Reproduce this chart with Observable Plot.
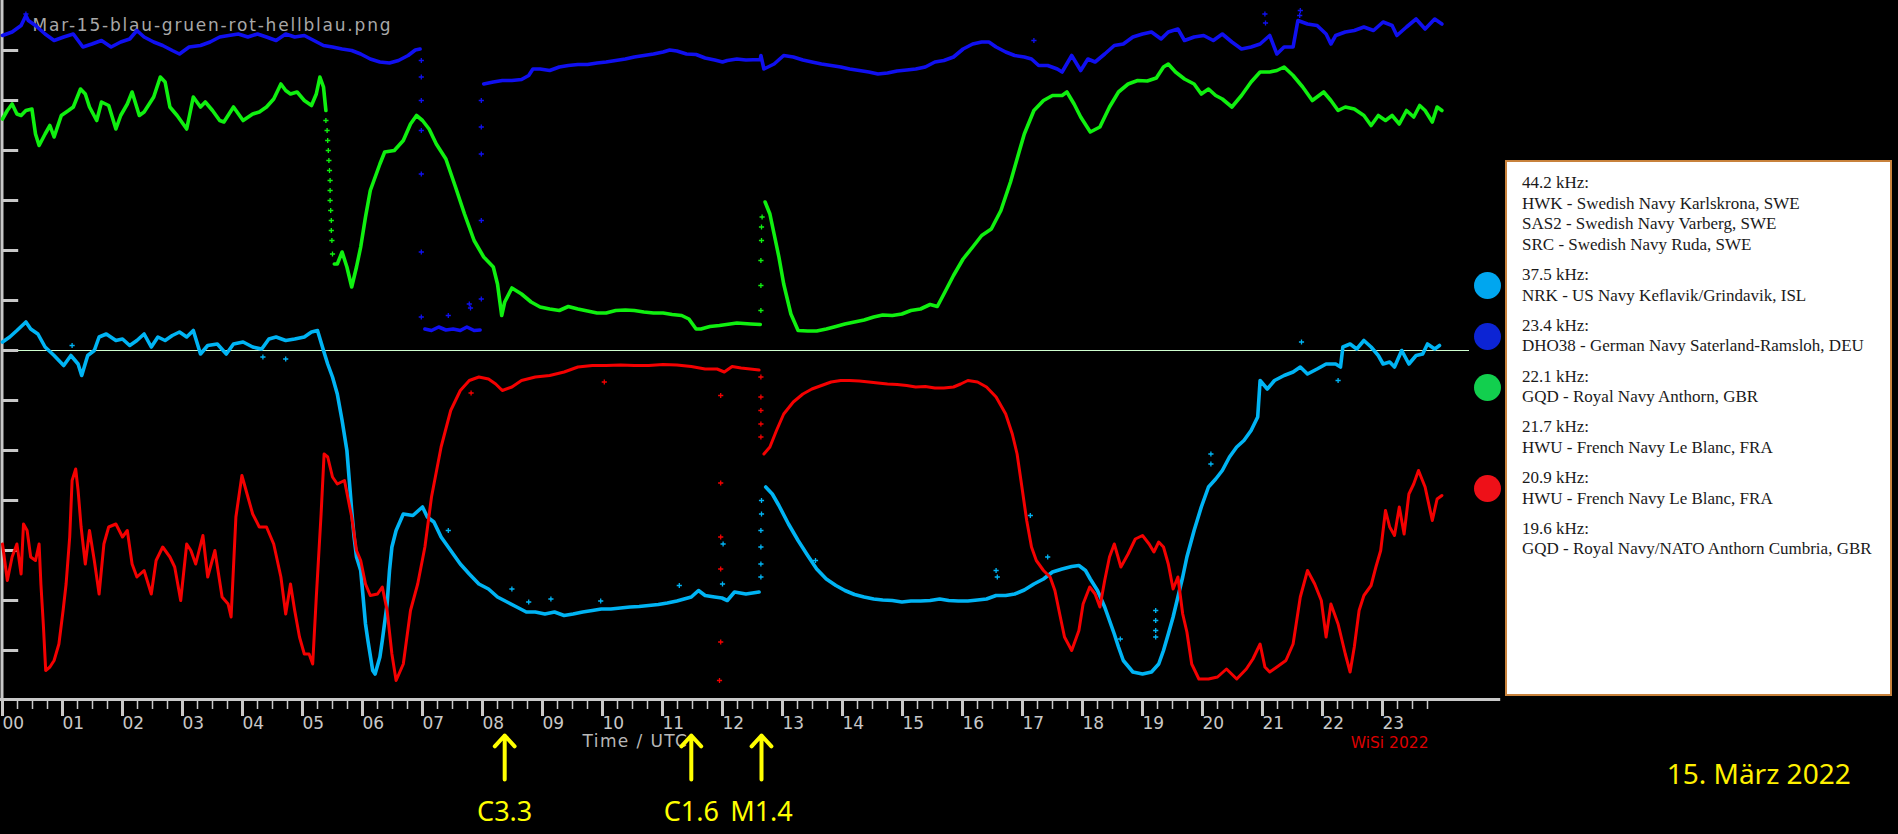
<!DOCTYPE html>
<html><head><meta charset="utf-8">
<script src="https://cdn.jsdelivr.net/npm/d3@7"></script>
<script src="https://cdn.jsdelivr.net/npm/@observablehq/plot@0.6"></script>
<style>
html,body{margin:0;padding:0;background:#000;width:1898px;height:834px;overflow:hidden}
#chart{position:absolute;left:0;top:0}
#legend{position:absolute;left:1505px;top:160px;width:387px;height:536px;box-sizing:border-box;border:2px solid #c8823c;background:#fff;padding:11px 0 0 15px;font-family:"Liberation Serif","Times New Roman",serif;font-size:17px;line-height:20.6px;color:#1a1a1a}
.grp{position:relative;margin-bottom:9.6px}
.blob{position:absolute;left:-48.5px;top:50%;width:27px;height:27px;margin-top:-13.5px;border-radius:50%}
</style>
</head><body>
<div id="chart"></div>
<div id="legend"></div>
<script>
// ---- data: hour (UTC) vs. relative signal level ----
const title = "Mar-15-blau-gruen-rot-hellblau.png";
const hours = d3.range(0, 24);
const quarterTicks = d3.range(0, 24, 0.25).filter(h => h % 1 !== 0);
const levelTicks = d3.range(10, 140, 10);
const referenceLevel = 70;

const blue = [[0.00,133.0],[0.16,133.7],[0.31,135.0],[0.39,137.0],[0.43,136.0],[0.55,135.0],[0.71,133.3],[0.86,132.0],[1.02,132.7],[1.18,133.3],[1.34,130.7],[1.49,131.3],[1.65,132.0],[1.81,130.7],[1.97,131.7],[2.12,132.3],[2.24,134.0],[2.36,132.7],[2.52,131.7],[2.67,131.0],[2.83,130.0],[2.95,129.3],[3.11,130.7],[3.30,131.0],[3.46,131.7],[3.62,132.7],[3.77,133.0],[3.93,133.3],[4.09,132.7],[4.25,133.3],[4.40,132.7],[4.56,132.0],[4.72,133.3],[4.87,132.7],[5.03,133.0],[5.19,132.0],[5.35,131.0],[5.50,130.7],[5.66,130.3],[5.82,130.0],[5.97,129.3],[6.13,128.3],[6.29,127.7],[6.45,127.5],[6.60,128.0],[6.76,129.0],[6.88,130.1],[6.96,130.3],[6.97,null],
[7.04,74.3],[7.15,74.0],[7.27,74.7],[7.39,74.1],[7.51,74.3],[7.63,74.0],[7.74,74.7],[7.86,74.0],[7.96,74.1],[7.97,null],
[8.02,123.3],[8.18,123.7],[8.33,124.0],[8.49,124.0],[8.65,124.2],[8.77,125.0],[8.84,126.3],[8.96,126.3],[9.12,126.0],[9.28,126.7],[9.43,127.0],[9.59,127.2],[9.75,127.2],[9.91,127.5],[10.06,127.7],[10.22,128.0],[10.38,128.3],[10.53,128.7],[10.69,129.0],[10.85,129.3],[11.01,129.7],[11.12,130.1],[11.24,129.9],[11.40,129.3],[11.56,129.2],[11.71,128.5],[11.87,128.1],[12.00,127.7],[12.08,128.0],[12.24,128.3],[12.39,128.1],[12.63,128.2],[12.64,129.0],[12.69,126.3],[12.86,127.3],[13.02,129.0],[13.18,128.7],[13.34,128.1],[13.49,127.7],[13.65,127.3],[13.81,127.0],[13.97,126.7],[14.12,126.3],[14.28,126.0],[14.44,125.7],[14.59,125.3],[14.75,125.5],[14.91,125.9],[15.07,126.1],[15.22,126.3],[15.38,126.7],[15.54,127.7],[15.69,128.0],[15.85,128.7],[16.01,130.3],[16.17,131.3],[16.32,131.7],[16.44,131.7],[16.56,130.7],[16.72,129.7],[16.87,129.0],[17.03,128.7],[17.15,128.3],[17.27,127.0],[17.42,127.0],[17.58,126.3],[17.66,125.7],[17.82,129.0],[17.97,126.0],[18.09,128.3],[18.21,127.7],[18.37,129.3],[18.53,131.0],[18.68,131.3],[18.84,132.7],[19.00,133.3],[19.15,133.7],[19.31,132.3],[19.43,133.7],[19.59,134.3],[19.70,132.0],[19.86,132.7],[20.02,133.0],[20.18,132.0],[20.33,133.3],[20.49,131.7],[20.65,130.3],[20.81,130.7],[20.96,131.3],[21.12,133.0],[21.24,129.3],[21.36,130.7],[21.51,130.7],[21.59,136.0],[21.75,135.3],[21.91,135.0],[22.06,133.3],[22.14,131.3],[22.22,133.0],[22.38,133.7],[22.53,134.0],[22.69,134.7],[22.85,134.0],[23.01,135.7],[23.16,135.0],[23.24,133.0],[23.40,134.7],[23.56,136.3],[23.71,134.3],[23.87,136.3],[23.99,135.3]];
const blueDots = [[6.98,128.0],[6.98,124.7],[6.98,120.0],[6.98,114.0],[6.98,105.3],[6.98,89.7],[6.98,76.7],[7.43,77.0],[7.78,79.3],[7.80,78.5],[7.98,80.3],[7.98,96.0],[7.98,109.3],[7.98,114.7],[7.98,120.0],[17.19,132.0],[21.04,137.3],[21.05,135.5],[21.63,138.0],[21.62,137.0],[0.39,137.3]];

const green = [[0.00,116.3],[0.08,118.0],[0.16,119.3],[0.24,117.3],[0.31,117.0],[0.39,118.0],[0.49,118.3],[0.55,113.3],[0.61,111.0],[0.71,113.3],[0.79,115.0],[0.86,112.7],[0.98,117.0],[1.10,118.0],[1.18,118.7],[1.30,122.3],[1.38,121.3],[1.45,118.7],[1.57,116.0],[1.65,119.7],[1.77,119.0],[1.89,114.3],[1.97,117.0],[2.08,119.3],[2.16,121.7],[2.28,117.0],[2.36,117.7],[2.52,120.7],[2.63,124.7],[2.71,123.7],[2.79,118.7],[2.91,117.0],[3.07,114.3],[3.18,120.7],[3.30,118.7],[3.38,119.7],[3.50,118.0],[3.62,116.0],[3.69,115.7],[3.85,118.7],[4.01,116.0],[4.17,117.3],[4.28,117.7],[4.40,118.7],[4.52,120.3],[4.64,123.3],[4.72,122.0],[4.80,121.3],[4.91,121.7],[5.03,120.0],[5.15,119.0],[5.23,121.3],[5.29,124.7],[5.35,122.7],[5.39,118.0],[5.40,null],
[5.53,87.3],[5.58,87.3],[5.66,89.7],[5.74,86.7],[5.82,82.7],[5.90,86.7],[5.97,90.7],[6.05,96.7],[6.13,102.0],[6.29,107.3],[6.37,109.7],[6.53,110.0],[6.68,112.0],[6.80,115.3],[6.90,117.0],[7.00,116.0],[7.11,114.3],[7.23,111.3],[7.39,108.3],[7.55,102.7],[7.70,97.3],[7.86,92.0],[8.02,88.7],[8.18,86.7],[8.25,83.3],[8.32,77.0],[8.37,79.7],[8.49,82.5],[8.65,81.3],[8.81,79.7],[8.96,78.7],[9.12,78.3],[9.28,78.0],[9.43,78.8],[9.59,78.3],[9.75,77.9],[9.91,77.5],[10.06,77.5],[10.22,78.0],[10.38,78.1],[10.53,78.0],[10.69,77.7],[10.85,77.5],[11.01,77.5],[11.16,77.2],[11.32,77.0],[11.44,76.3],[11.56,74.3],[11.64,74.3],[11.79,74.8],[11.95,75.0],[12.24,75.5],[12.47,75.3],[12.63,75.2],[12.64,null],
[12.71,99.7],[12.79,97.3],[12.86,93.3],[12.94,88.7],[13.02,83.3],[13.14,77.3],[13.26,74.0],[13.42,73.9],[13.57,73.9],[13.73,74.3],[13.89,74.8],[14.04,75.3],[14.20,75.7],[14.36,76.1],[14.52,76.7],[14.67,77.1],[14.83,77.0],[14.99,77.3],[15.14,78.0],[15.30,78.3],[15.46,79.2],[15.58,78.8],[15.69,81.3],[15.85,85.0],[16.01,88.3],[16.17,90.7],[16.32,93.0],[16.48,94.3],[16.64,98.0],[16.80,103.7],[16.95,110.0],[17.03,113.3],[17.19,118.0],[17.35,120.0],[17.50,121.0],[17.66,121.0],[17.74,121.7],[17.86,119.3],[17.97,116.7],[18.13,113.7],[18.29,114.7],[18.45,118.7],[18.60,121.7],[18.76,123.3],[18.92,124.0],[19.08,123.9],[19.23,124.5],[19.35,126.7],[19.43,127.3],[19.55,125.7],[19.70,124.3],[19.86,123.3],[19.98,121.3],[20.10,122.3],[20.22,121.0],[20.33,120.3],[20.49,118.7],[20.65,121.0],[20.81,123.7],[20.96,125.7],[21.12,125.7],[21.24,126.0],[21.36,126.7],[21.51,125.0],[21.67,122.7],[21.83,120.0],[22.02,121.7],[22.14,120.0],[22.26,118.0],[22.38,118.7],[22.53,118.3],[22.69,117.0],[22.81,115.0],[22.93,117.0],[23.05,116.0],[23.16,117.0],[23.28,115.3],[23.40,118.0],[23.52,116.7],[23.62,119.0],[23.71,118.0],[23.83,115.7],[23.91,118.7],[23.99,118.0]];
const greenDots = [[5.39,116.0],[5.41,114.0],[5.42,112.0],[5.43,110.0],[5.44,108.0],[5.45,106.0],[5.46,104.0],[5.46,102.0],[5.46,100.0],[5.47,98.0],[5.48,96.0],[5.48,94.0],[5.49,92.0],[5.50,89.3],[12.64,78.0],[12.64,83.0],[12.64,88.0],[12.65,92.0],[12.65,94.7],[12.66,96.7]];

const lightBlue = [[0.00,71.7],[0.12,72.7],[0.24,74.0],[0.39,75.7],[0.47,74.3],[0.59,73.3],[0.71,70.7],[0.86,69.0],[1.02,67.0],[1.14,69.0],[1.26,67.3],[1.32,65.0],[1.42,69.0],[1.53,70.0],[1.61,72.7],[1.73,73.3],[1.89,72.0],[2.00,72.3],[2.12,71.0],[2.24,72.0],[2.36,73.3],[2.48,70.7],[2.59,72.7],[2.71,72.0],[2.83,73.0],[2.95,73.7],[3.07,72.7],[3.18,74.0],[3.30,69.3],[3.42,71.0],[3.58,71.3],[3.73,69.3],[3.85,71.3],[4.01,71.7],[4.17,70.7],[4.32,70.3],[4.44,72.3],[4.56,72.7],[4.72,72.0],[4.87,72.3],[5.03,72.7],[5.15,73.7],[5.25,74.0],[5.35,70.0],[5.42,67.3],[5.50,64.7],[5.58,61.3],[5.66,56.0],[5.74,50.0],[5.78,44.0],[5.82,38.0],[5.86,32.7],[5.90,28.7],[5.97,26.0],[6.01,20.7],[6.05,15.3],[6.09,12.0],[6.17,6.0],[6.21,5.3],[6.29,8.7],[6.33,12.0],[6.41,19.3],[6.45,26.0],[6.49,30.7],[6.56,34.0],[6.68,37.3],[6.84,37.0],[7.00,38.7],[7.08,36.7],[7.19,35.7],[7.31,32.7],[7.47,30.0],[7.63,27.3],[7.78,25.3],[7.94,23.3],[8.10,22.3],[8.25,20.7],[8.41,19.7],[8.57,18.7],[8.73,17.7],[8.88,17.7],[9.04,17.3],[9.20,17.7],[9.36,17.0],[9.51,17.3],[9.67,17.7],[9.83,18.0],[9.98,18.3],[10.14,18.3],[10.30,18.5],[10.46,18.7],[10.61,18.8],[10.77,19.0],[10.93,19.2],[11.08,19.5],[11.24,19.9],[11.36,20.3],[11.48,20.7],[11.60,22.0],[11.71,21.0],[11.87,20.7],[11.99,20.5],[12.08,20.0],[12.20,21.7],[12.39,21.3],[12.61,21.7],[12.63,null],
[12.72,42.7],[12.83,41.3],[12.94,39.0],[13.10,35.3],[13.26,32.0],[13.42,29.0],[13.57,26.3],[13.73,24.3],[13.89,23.0],[14.04,22.0],[14.20,21.2],[14.36,20.7],[14.52,20.3],[14.67,20.1],[14.83,20.0],[14.99,19.7],[15.14,19.9],[15.30,19.9],[15.46,20.0],[15.62,20.3],[15.77,20.0],[15.93,19.9],[16.09,19.9],[16.25,20.1],[16.40,20.3],[16.56,21.0],[16.72,21.0],[16.87,21.3],[17.03,22.1],[17.19,23.3],[17.35,24.3],[17.50,25.7],[17.66,26.3],[17.82,26.8],[17.94,27.0],[18.05,26.0],[18.13,24.3],[18.25,22.0],[18.37,18.7],[18.45,16.0],[18.53,13.3],[18.60,10.7],[18.68,8.0],[18.84,5.7],[19.00,5.3],[19.15,5.7],[19.27,7.3],[19.35,10.0],[19.43,13.3],[19.51,16.7],[19.59,20.7],[19.67,24.7],[19.74,28.7],[19.86,34.0],[19.98,38.7],[20.10,42.7],[20.22,44.3],[20.33,46.0],[20.45,48.7],[20.57,50.7],[20.69,52.0],[20.81,54.0],[20.92,56.7],[20.96,64.0],[21.08,62.3],[21.20,64.0],[21.36,65.0],[21.51,65.7],[21.63,66.7],[21.75,65.3],[21.91,66.3],[22.06,67.3],[22.22,67.3],[22.30,66.7],[22.34,70.7],[22.46,71.3],[22.57,70.3],[22.69,72.0],[22.81,70.7],[22.93,69.0],[23.01,67.3],[23.12,67.7],[23.20,66.7],[23.32,70.0],[23.44,67.3],[23.56,69.0],[23.67,69.3],[23.75,71.3],[23.87,70.3],[23.95,71.0]];
const lightBlueDots = [[12.64,24.7],[12.64,27.3],[12.64,30.7],[12.64,34.0],[12.65,37.3],[12.65,40.0],[12.00,23.3],[12.01,31.3],[13.55,28.0],[16.56,26.0],[16.58,24.7],[17.42,28.7],[17.13,37.0],[18.63,12.3],[19.22,18.0],[19.22,16.0],[19.22,14.0],[19.22,12.7],[20.14,49.3],[20.14,47.3],[21.65,71.7],[22.26,64.0],[8.49,22.3],[8.77,19.7],[9.14,20.3],[9.97,19.9],[11.28,23.0],[7.43,34.0],[1.16,71.0],[4.72,68.3],[4.34,68.7]];

const red = [[0.00,31.3],[0.08,24.0],[0.16,28.7],[0.24,31.3],[0.31,25.3],[0.35,35.3],[0.41,34.0],[0.47,28.7],[0.55,28.0],[0.61,31.3],[0.64,23.3],[0.68,15.3],[0.72,6.0],[0.79,6.7],[0.86,8.0],[0.94,11.3],[1.01,18.0],[1.06,23.3],[1.12,32.7],[1.16,44.0],[1.22,46.3],[1.26,42.0],[1.31,34.7],[1.38,27.3],[1.45,34.0],[1.53,28.0],[1.61,21.3],[1.69,31.3],[1.77,34.7],[1.89,35.3],[2.00,32.7],[2.08,34.0],[2.16,27.3],[2.24,24.7],[2.36,26.0],[2.48,21.3],[2.56,28.0],[2.67,30.7],[2.79,28.7],[2.87,26.7],[2.97,20.0],[3.07,31.3],[3.14,30.0],[3.22,27.3],[3.34,33.0],[3.42,24.7],[3.54,30.0],[3.66,20.7],[3.76,19.3],[3.81,16.7],[3.89,36.7],[3.99,45.0],[4.09,40.7],[4.17,37.3],[4.28,34.7],[4.40,34.7],[4.52,31.3],[4.64,24.7],[4.72,17.3],[4.80,23.3],[4.87,18.0],[4.95,12.7],[5.03,9.3],[5.11,9.3],[5.17,7.3],[5.23,20.7],[5.31,37.3],[5.36,49.3],[5.42,48.7],[5.50,44.7],[5.58,43.3],[5.70,44.0],[5.82,36.7],[5.90,30.0],[5.97,28.0],[6.05,23.3],[6.13,21.0],[6.25,21.3],[6.33,22.7],[6.41,18.0],[6.49,9.3],[6.56,4.0],[6.68,7.3],[6.80,18.0],[6.92,23.3],[7.04,30.7],[7.15,40.7],[7.31,50.7],[7.47,58.0],[7.63,62.0],[7.78,64.0],[7.94,64.7],[8.10,64.3],[8.22,63.3],[8.33,62.0],[8.49,62.7],[8.65,64.0],[8.88,64.7],[9.12,65.0],[9.36,65.7],[9.59,66.7],[9.83,67.0],[10.06,67.0],[10.30,67.1],[10.53,67.0],[10.77,67.0],[11.01,67.2],[11.24,67.1],[11.48,66.8],[11.71,66.3],[11.91,66.3],[12.03,65.7],[12.16,66.8],[12.31,66.5],[12.61,66.1],[12.63,null],
[12.69,49.3],[12.79,50.7],[12.90,54.0],[13.02,57.3],[13.18,59.7],[13.34,61.3],[13.49,62.3],[13.65,63.0],[13.81,63.7],[13.97,64.0],[14.12,64.0],[14.28,63.9],[14.44,63.7],[14.59,63.5],[14.75,63.3],[14.91,63.2],[15.07,63.0],[15.22,62.7],[15.38,62.8],[15.54,62.5],[15.69,62.5],[15.85,62.7],[15.97,63.3],[16.09,64.0],[16.25,63.7],[16.40,62.7],[16.56,60.7],[16.72,57.3],[16.83,53.3],[16.91,49.3],[16.99,42.7],[17.07,36.0],[17.15,30.7],[17.23,28.0],[17.35,26.0],[17.46,24.7],[17.54,22.0],[17.62,17.3],[17.70,12.7],[17.82,10.0],[17.94,14.0],[18.01,19.3],[18.12,22.7],[18.21,21.3],[18.29,18.7],[18.37,24.0],[18.45,28.7],[18.53,31.3],[18.64,26.7],[18.76,29.3],[18.88,32.3],[19.00,33.0],[19.11,31.3],[19.19,29.7],[19.27,31.7],[19.35,30.7],[19.43,27.3],[19.51,22.3],[19.59,24.7],[19.67,17.3],[19.74,13.7],[19.82,7.3],[19.94,4.3],[20.10,4.3],[20.25,4.7],[20.40,6.3],[20.57,4.3],[20.73,6.3],[20.84,8.3],[20.96,11.3],[21.04,6.7],[21.12,5.7],[21.24,6.7],[21.39,8.0],[21.51,11.3],[21.63,20.7],[21.75,26.0],[21.87,23.3],[21.98,20.0],[22.06,12.7],[22.14,19.3],[22.26,15.3],[22.38,9.3],[22.46,5.7],[22.53,10.7],[22.61,18.0],[22.69,21.0],[22.81,23.0],[22.89,26.7],[22.97,30.0],[23.05,38.0],[23.12,34.7],[23.20,33.0],[23.28,38.7],[23.36,33.3],[23.44,41.3],[23.52,43.3],[23.60,46.0],[23.71,42.7],[23.83,36.0],[23.91,40.3],[23.99,41.0]];
const redDots = [[12.64,64.7],[12.64,60.7],[12.64,58.0],[12.64,55.3],[12.64,52.7],[7.81,61.5],[10.03,63.7],[11.97,61.0],[11.97,43.5],[11.97,32.7],[11.97,26.3],[11.97,11.7],[11.95,4.0]];

const flares = [{label: "C3.3", time: 8.37}, {label: "C1.6", time: 11.48}, {label: "M1.4", time: 12.65}];

const legendGroups = [
  {freq: "44.2 kHz:", stations: ["HWK - Swedish Navy Karlskrona, SWE", "SAS2 - Swedish Navy Varberg, SWE", "SRC - Swedish Navy Ruda, SWE"], blob: null},
  {freq: "37.5 kHz:", stations: ["NRK - US Navy Keflavik/Grindavik, ISL"], blob: "#00a6ef"},
  {freq: "23.4 kHz:", stations: ["DHO38 - German Navy Saterland-Ramsloh, DEU"], blob: "#0c24d4"},
  {freq: "22.1 kHz:", stations: ["GQD - Royal Navy Anthorn, GBR"], blob: "#12cf4e"},
  {freq: "21.7 kHz:", stations: ["HWU - French Navy Le Blanc, FRA"], blob: null},
  {freq: "20.9 kHz:", stations: ["HWU - French Navy Le Blanc, FRA"], blob: "#ee1018"},
  {freq: "19.6 kHz:", stations: ["GQD - Royal Navy/NATO Anthorn Cumbria, GBR"], blob: null}
];

// ---- colours ----
const C = {blue: "#1010f0", green: "#10f010", lightBlue: "#00b4f4", red: "#f40000", axis: "#c8c8c8"};

const W = 1898, H = 834;
const X = d => d[0], Y = d => d[1];
const series = [
  [blue, blueDots, C.blue, 3.6],
  [green, greenDots, C.green, 3.6],
  [lightBlue, lightBlueDots, C.lightBlue, 3.6],
  [red, redDots, C.red, 3.0]
];

const marks = [
  Plot.ruleY([referenceLevel], {x1: 0, x2: 24.45, stroke: "#d0ffd0", strokeWidth: 1.2}),
  Plot.ruleX([0], {y1: 0, y2: 140, stroke: C.axis, strokeWidth: 3, dx: -0.5}),
  Plot.ruleY(levelTicks, {x1: 0, x2: 0.27, stroke: C.axis, strokeWidth: 3}),
  Plot.ruleY([0], {x1: -0.05, x2: 24.97, stroke: C.axis, strokeWidth: 3, dy: -1}),
  Plot.ruleX(hours, {y1: 0, y2: -3.2, stroke: C.axis, strokeWidth: 3}),
  Plot.ruleX(quarterTicks, {y1: 0, y2: -1.8, stroke: C.axis, strokeWidth: 1.5}),
  Plot.text(hours, {x: d => d, y: -4.6, text: d => String(d).padStart(2, "0"), textAnchor: "start", fill: C.axis, fontSize: 17, fontFamily: "DejaVu Sans"}),
  Plot.text([title], {x: 0.5, y: 135, text: d => d, textAnchor: "start", fill: "#a8a8a8", fontSize: 17, fontFamily: "DejaVu Sans"}),
  Plot.text(["Time / UTC"], {x: 9.667, y: -8.3, text: d => d, textAnchor: "start", fill: "#b8b8b8", fontSize: 17, fontFamily: "DejaVu Sans"}),
  Plot.text(["WiSi 2022"], {x: 22.47, y: -8.6, text: d => d, textAnchor: "start", fill: "#dd0000", fontSize: 15.5, fontFamily: "DejaVu Sans"})
];
for (const [line, dots, color, sw] of series) {
  marks.push(Plot.line(line, {x: X, y: Y, stroke: color, strokeWidth: sw, strokeLinejoin: "round"}));
  marks.push(Plot.dot(dots, {x: X, y: Y, symbol: "plus", r: 1.8, stroke: color, strokeWidth: 1.3}));
}
marks.push(
  Plot.arrow(flares, {x1: "time", x2: "time", y1: -15.8, y2: -7.0, stroke: "#ffff00", strokeWidth: 4, headLength: 15, headAngle: 85}),
  Plot.text(flares, {x: "time", y: -22.4, text: "label", fill: "#ffff00", fontSize: 27, fontFamily: "Noto Sans"}),
  Plot.text(["15. März 2022"], {x: 29.27, y: -15, text: d => d, fill: "#fff000", fontSize: 28, fontFamily: "Noto Sans"})
);

const plot = Plot.plot({
  width: W, height: H,
  marginLeft: 2, marginRight: W - 2 - 60 * 24, marginTop: 0, marginBottom: 0,
  x: {domain: [0, 24], axis: null},
  y: {domain: [-26.8, 140], axis: null},
  style: {background: "#000", overflow: "visible"},
  marks
});
d3.select(plot).selectAll("text").each(function () {
  if (this.textContent === title) this.setAttribute("letter-spacing", "1.8");
  if (this.textContent === "Time / UTC") this.setAttribute("letter-spacing", "1.4");
});
document.getElementById("chart").appendChild(plot);

// ---- legend ----
const legend = d3.select("#legend");
for (const g of legendGroups) {
  const div = legend.append("div").attr("class", "grp");
  div.append("div").text(g.freq);
  for (const s of g.stations) div.append("div").text(s);
  if (g.blob) div.append("span").attr("class", "blob").style("background", g.blob);
}
</script>
</body></html>
